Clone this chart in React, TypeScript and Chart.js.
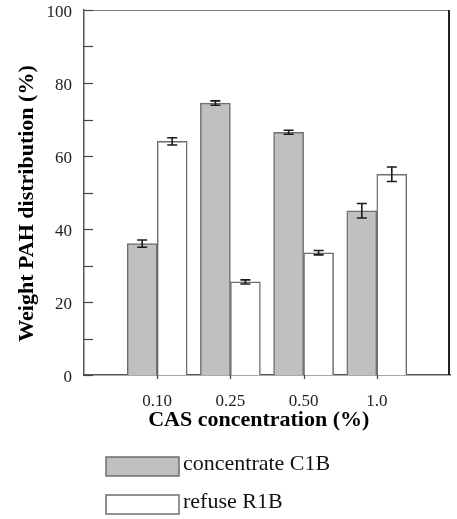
import React, { useEffect, useRef } from "react";
import { Chart, registerables } from "chart.js";

Chart.register(...registerables);

const categories = ["0.10", "0.25", "0.50", "1.0"];
const concentrateC1B = [36, 74.5, 66.5, 45];
const refuseR1B = [64, 25.5, 33.5, 55];
const concentrateErr = [1, 0.6, 0.55, 2];
const refuseErr = [1, 0.55, 0.6, 2];
const yMajorTicks = [0, 20, 40, 60, 80, 100];
const yMinorTicks = [10, 30, 50, 70, 90];
const seriesNames = ["concentrate C1B", "refuse R1B"];
const xTitle = "CAS concentration (%)   ";
const yTitle = "Weight PAH distribution (%)    ";

const SERIF = "'Liberation Serif', 'Times New Roman', serif";
const EDGE = "#6e6e6e";

const App = () => {
  const ref = useRef<HTMLCanvasElement | null>(null);

  useEffect(() => {
    const canvas = ref.current;
    if (!canvas) return;
    const labels = ["", ...categories, ""];
    const pad = (a: number[]) => [null, ...a, null];
    const errs = [pad(concentrateErr), pad(refuseErr)];

    const extras = {
      id: "extras",
      afterDatasetsDraw(chart: any) {
        const ctx = chart.ctx;
        const { left, right, top, bottom } = chart.chartArea;
        const y = chart.scales.y;
        const x = chart.scales.x;
        ctx.save();
        // frame top and right
        ctx.strokeStyle = "#7a7a7a";
        ctx.lineWidth = 1;
        ctx.beginPath();
        ctx.moveTo(left, top + 0.5);
        ctx.lineTo(right, top + 0.5);
        ctx.stroke();
        ctx.strokeStyle = "#222";
        ctx.lineWidth = 2;
        ctx.beginPath();
        ctx.moveTo(right - 1, top);
        ctx.lineTo(right - 1, bottom);
        ctx.stroke();
        // inward y ticks
        ctx.strokeStyle = "#444";
        ctx.lineWidth = 1.2;
        [...yMajorTicks, ...yMinorTicks].forEach((v) => {
          const py = Math.round(y.getPixelForValue(v)) + 0.5;
          ctx.beginPath();
          ctx.moveTo(left, py);
          ctx.lineTo(left + 9, py);
          ctx.stroke();
        });
        // x ticks downward at categories
        categories.forEach((_, i) => {
          const px = Math.round(x.getPixelForValue(i + 1)) + 0.5;
          ctx.beginPath();
          ctx.moveTo(px, bottom);
          ctx.lineTo(px, bottom + 4);
          ctx.stroke();
        });
        // error bars
        ctx.strokeStyle = "#1a1a1a";
        ctx.lineWidth = 1.6;
        chart.data.datasets.forEach((ds: any, di: number) => {
          const meta = chart.getDatasetMeta(di);
          meta.data.forEach((bar: any, i: number) => {
            const v = ds.data[i];
            const e = errs[di][i];
            if (v == null || e == null) return;
            const cx = bar.x;
            const y1 = y.getPixelForValue(v + e);
            const y2 = y.getPixelForValue(v - e);
            ctx.beginPath();
            ctx.moveTo(cx, y1);
            ctx.lineTo(cx, y2);
            ctx.moveTo(cx - 5, y1);
            ctx.lineTo(cx + 5, y1);
            ctx.moveTo(cx - 5, y2);
            ctx.lineTo(cx + 5, y2);
            ctx.stroke();
          });
        });
        // legend
        const lx = left + 22;
        const rows = [457, 495];
        ctx.font = `22px ${SERIF}`;
        ctx.textBaseline = "middle";
        ctx.textAlign = "left";
        chart.data.datasets.forEach((ds: any, di: number) => {
          const by = rows[di];
          ctx.fillStyle = ds.backgroundColor;
          ctx.fillRect(lx, by, 73, 19);
          ctx.strokeStyle = EDGE;
          ctx.lineWidth = 1.5;
          ctx.strokeRect(lx, by, 73, 19);
          ctx.fillStyle = "#111";
          ctx.fillText(ds.label, lx + 77, by + 7);
        });
        ctx.restore();
      },
    };

    const chart = new Chart(canvas, {
      type: "bar",
      data: {
        labels,
        datasets: [
          {
            label: seriesNames[0],
            data: pad(concentrateC1B) as any,
            backgroundColor: "#c0c0c0",
            borderColor: EDGE,
            borderWidth: 1.5,
            barThickness: 30,
          },
          {
            label: seriesNames[1],
            data: pad(refuseR1B) as any,
            backgroundColor: "#ffffff",
            borderColor: EDGE,
            borderWidth: 1.5,
            barThickness: 30,
          },
        ],
      },
      options: {
        responsive: false,
        animation: false,
        layout: { padding: { left: 14, top: 0, right: 7, bottom: 88 } },
        plugins: { legend: { display: false }, tooltip: { enabled: false } },
        scales: {
          x: {
            type: "category",
            offset: false,
            grid: { display: false, drawTicks: false, tickLength: 0 },
            border: { display: true, color: "#555", width: 1.5 },
            ticks: {
              autoSkip: false,
              maxRotation: 0,
              padding: 16,
              color: "#222",
              font: { family: SERIF, size: 17 },
            },
            title: {
              display: true,
              text: xTitle,
              color: "#000",
              font: { family: SERIF, size: 22, weight: "bold", lineHeight: 1 },
              padding: { top: 0, bottom: 0 },
            },
            afterFit: (s: any) => {
              s.height = 56;
              s.paddingLeft = 0;
              s.paddingRight = 0;
            },
          },
          y: {
            min: 0,
            max: 100,
            grid: { display: false, drawTicks: false, tickLength: 0 },
            border: { display: true, color: "#555", width: 1.5 },
            ticks: {
              stepSize: 10,
              padding: 12,
              labelOffset: 3,
              color: "#222",
              font: { family: SERIF, size: 17 },
              callback: (v: any) => (yMajorTicks.includes(Number(v)) ? String(v) : ""),
            },
            title: {
              display: true,
              text: yTitle,
              color: "#000",
              font: { family: SERIF, size: 22, weight: "bold" },
              padding: { top: 0, bottom: 0 },
            },
            afterFit: (s: any) => {
              s.width = 70;
              s.paddingTop = 10;
              s.paddingBottom = 0;
            },
          },
        },
      },
      plugins: [extras],
    });
    return () => chart.destroy();
  }, []);

  return (
    <div style={{ position: "absolute", left: 0, top: 0, width: 457, height: 519, background: "#fff" }}>
      <canvas ref={ref} width={457} height={519} style={{ display: "block" }} />
    </div>
  );
};

export default App;
